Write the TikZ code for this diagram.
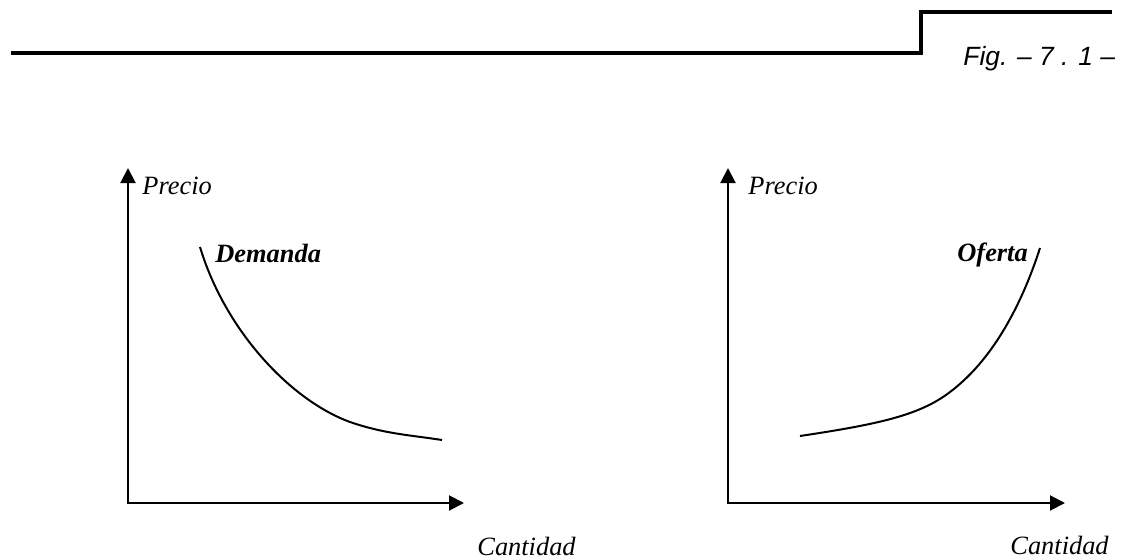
\documentclass[tikz,border=0pt]{standalone}
\usepackage{fontspec}
\setmainfont{Liberation Serif}
\newfontfamily\arialfont{Liberation Sans}
\usetikzlibrary{arrows.meta}
\tikzset{
  axis/.style={line width=1pt, {Triangle[length=7.5pt,width=7.5pt]}-{Triangle[length=7.5pt,width=7.5pt]}},
  curve/.style={line width=1pt, line join=round},
  rule/.style={line width=2pt},
  lbl/.style={anchor=base west, inner sep=0pt, font=\fontsize{13.2pt}{15pt}\selectfont\itshape},
  blbl/.style={anchor=base west, inner sep=0pt, font=\fontsize{13.2pt}{15pt}\selectfont\bfseries\itshape},
  figlbl/.style={anchor=base west, inner sep=0pt, font=\fontsize{13.2pt}{15pt}\selectfont\arialfont\itshape}
}
\begin{document}
\begin{tikzpicture}[x=0.5pt,y=-0.5pt]
\useasboundingbox (0,0) rectangle (1121,558);
% header rule
\draw[rule] (11,53) -- (921,53) -- (921,12) -- (1112,12);
\node[figlbl] (fig) at (963,65) {Fig. – 7 . 1 –};
% left chart
\coordinate (lo) at (128,503);
\coordinate (ly) at (128,168);
\coordinate (lx) at (464,503);
\draw[axis] (ly) -- (lo) -- (lx);
\node[lbl] (lp) at (142,194) {Precio};
\node[lbl] (lc) at (477,555) {Cantidad};
\node[blbl] (dem) at (215,262) {Demanda};
\draw[curve] (200,247) .. controls (225,330) and (290,400) .. (350,422)
                       .. controls (385,434) and (410,435) .. (442,440);
% right chart
\coordinate (ro) at (728,503);
\coordinate (ry) at (728,168);
\coordinate (rx) at (1065,503);
\draw[axis] (ry) -- (ro) -- (rx);
\node[lbl] (rp) at (748,194) {Precio};
\node[lbl] (rc) at (1010,554) {Cantidad};
\node[blbl] (ofe) at (957,261) {Oferta};
\draw[curve] (800,436) .. controls (880,424) and (920,415) .. (950,392)
                       .. controls (990,362) and (1020,310) .. (1040,248);
\end{tikzpicture}
\end{document}
